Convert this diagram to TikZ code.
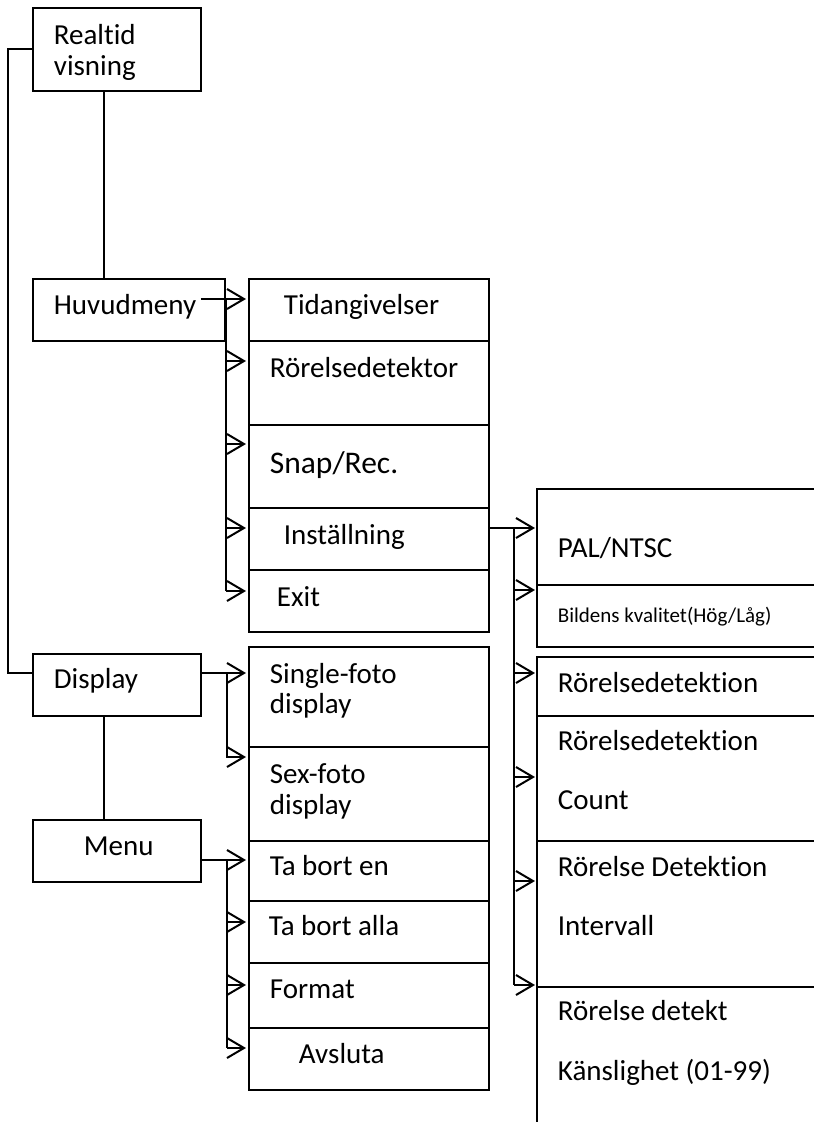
\documentclass[tikz,border=0pt]{standalone}
\usepackage{fontspec}
\setmainfont{Carlito}[Ligatures=NoCommon]
\begin{document}
\newcommand\mybarb[1]{\draw[line width=2pt,line join=miter] ([xshift=-17pt,yshift=10pt]#1) -- (#1) -- ([xshift=-17pt,yshift=-10pt]#1);}
\begin{tikzpicture}[x=1pt,y=-1pt,line width=1.8pt,
  box/.style={draw,rectangle,inner sep=0pt,anchor=north west,line width=1.8pt},
  lbl/.style={anchor=base west,inner sep=0pt,font=\fontsize{29}{34}\selectfont},
  big/.style={lbl,font=\fontsize{31.5}{36}\selectfont},
  sml/.style={lbl,font=\fontsize{21}{25}\selectfont}]
\useasboundingbox (0,0) rectangle (814,1122);
% left column
\node[box,minimum width=168pt,minimum height=83pt] (realtid) at (32,7) {};
\node[box,minimum width=192pt,minimum height=62pt] (huvud) at (32,278) {};
\node[box,minimum width=168pt,minimum height=62pt] (display) at (32,653) {};
\node[box,minimum width=168pt,minimum height=62pt] (menu) at (32,819) {};
% middle column
\node[box,minimum width=240pt,minimum height=62pt] (tid) at (248,278) {};
\node[box,minimum width=240pt,minimum height=84pt] (rordet) at (248,340) {};
\node[box,minimum width=240pt,minimum height=83pt] (snap) at (248,424) {};
\node[box,minimum width=240pt,minimum height=62pt] (inst) at (248,507) {};
\node[box,minimum width=240pt,minimum height=62pt] (exit) at (248,569) {};
\node[box,minimum width=240pt,minimum height=100pt] (single) at (248,646) {};
\node[box,minimum width=240pt,minimum height=94pt] (sex) at (248,746) {};
\node[box,minimum width=240pt,minimum height=60pt] (tabe) at (248,840) {};
\node[box,minimum width=240pt,minimum height=62pt] (taba) at (248,900) {};
\node[box,minimum width=240pt,minimum height=65pt] (format) at (248,962) {};
\node[box,minimum width=240pt,minimum height=62pt] (avsl) at (248,1027) {};
% right column (runs past the right edge)
\node[box,minimum width=300pt,minimum height=96pt] (pal) at (536,488) {};
\node[box,minimum width=300pt,minimum height=62pt] (bild) at (536,584) {};
\node[box,minimum width=300pt,minimum height=59pt] (rda) at (536,656) {};
\node[box,minimum width=300pt,minimum height=125pt] (rdb) at (536,715) {};
\node[box,minimum width=300pt,minimum height=146pt] (rdc) at (536,840) {};
\node[box,minimum width=300pt,minimum height=160pt] (rdd) at (536,986) {};
% texts
\node[lbl] (t1) at (53,44) {Realtid};
\node[lbl] (t2) at (53,75) {visning};
\node[lbl] (t3) at (53,314) {Huvudmeny};
\node[lbl] (t4) at (283,314) {Tidangivelser};
\node[lbl] (t5) at (269,377) {Rörelsedetektor};
\node[big] (t6) at (269,473) {Snap/Rec.};
\node[lbl] (t7) at (283,544) {Inställning};
\node[lbl] (t8) at (276,606) {Exit};
\node[lbl] (t9) at (53,688) {Display};
\node[lbl] (t10) at (269,683) {Single-foto};
\node[lbl] (t11) at (269,713) {display};
\node[lbl] (t12) at (269,783) {Sex-foto};
\node[lbl] (t13) at (269,814) {display};
\node[lbl] (t14) at (83,855) {Menu};
\node[lbl] (t15) at (269,875) {Ta bort en};
\node[lbl] (t16) at (268,935) {Ta bort alla};
\node[lbl] (t17) at (269,998) {Format};
\node[lbl] (t18) at (298,1063) {Avsluta};
\node[lbl] (t19) at (557,557) {PAL/NTSC};
\node[sml] (t20) at (557,622) {Bildens kvalitet(Hög/Låg)};
\node[lbl] (t21) at (557,692) {Rörelsedetektion};
\node[lbl] (t22) at (557,750) {Rörelsedetektion};
\node[lbl] (t23) at (557,809) {Count};
\node[lbl] (t24) at (557,876) {Rörelse Detektion};
\node[lbl] (t25) at (557,935) {Intervall};
\node[lbl] (t26) at (557,1020) {Rörelse detekt};
\node[lbl] (t27) at (557,1080) {Känslighet (01-99)};
% arrow tip coordinates
\coordinate (aTid) at (244,299);
\coordinate (aRor) at (244,361);
\coordinate (aSnap) at (244,444);
\coordinate (aInst) at (244,528);
\coordinate (aExit) at (244,591);
\coordinate (aSingle) at (244,673);
\coordinate (aSex) at (244,757);
\coordinate (aTabe) at (244,860);
\coordinate (aTaba) at (244,922);
\coordinate (aFormat) at (244,985);
\coordinate (aAvsl) at (244,1048);
\coordinate (aPal) at (533,528);
\coordinate (aBild) at (533,590);
\coordinate (aRda) at (533,673);
\coordinate (aRdb) at (533,777);
\coordinate (aRdc) at (533,881);
\coordinate (aRdd) at (533,985);
% plain connectors
\draw ([xshift=72pt]realtid.south west) -- ([xshift=72pt]realtid.south west |- huvud.north);
\draw ([xshift=72pt]display.south west) -- ([xshift=72pt]display.south west |- menu.north);
\draw ([yshift=-42pt]realtid.north west) -- ++(-24pt,0) |- ([yshift=-20pt]display.north west);
% Huvudmeny branches
\draw ([xshift=-25pt]huvud.east |- aTid) -- (aTid);
\draw (huvud.east |- aTid) -- (huvud.east |- aExit);
\foreach \t in {aRor,aSnap,aInst,aExit}{\draw (huvud.east |- \t) -- (\t);}
% Display branches
\draw (display.east |- aSingle) -- (aSingle);
\draw ([xshift=25pt]display.east |- aSingle) -- ([xshift=25pt]display.east |- aSex) -- (aSex);
% Menu branches
\draw (menu.east |- aTabe) -- (aTabe);
\draw ([xshift=25pt]menu.east |- aTabe) -- ([xshift=25pt]menu.east |- aAvsl);
\foreach \t in {aTaba,aFormat,aAvsl}{\draw ([xshift=25pt]menu.east |- \t) -- (\t);}
% Installning branches
\draw (inst.east |- aPal) -- (aPal);
\draw ([xshift=24pt]inst.east |- aPal) -- ([xshift=24pt]inst.east |- aRdd);
\foreach \t in {aBild,aRda,aRdb,aRdc,aRdd}{\draw ([xshift=24pt]inst.east |- \t) -- (\t);}
% open arrow heads
\foreach \t in {aTid,aRor,aSnap,aInst,aExit,aSingle,aSex,aTabe,aTaba,aFormat,aAvsl,aPal,aBild,aRda,aRdb,aRdc,aRdd}{\mybarb{\t}}
\end{tikzpicture}
\end{document}
